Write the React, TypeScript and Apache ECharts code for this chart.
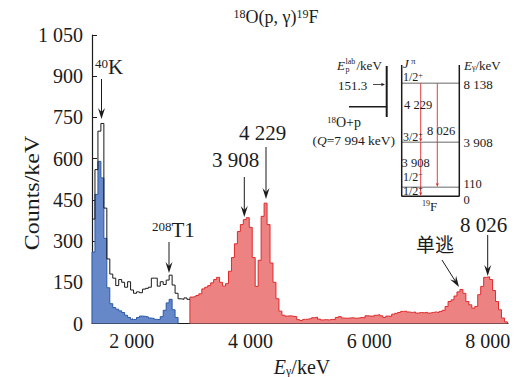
import React, { useEffect, useRef } from 'react';
import * as echarts from 'echarts';

// ---------- data (counts per keV, 50 keV bins) ----------
const BIN_WIDTH = 50;
const TOTAL_START = 1330;
const totalCounts = [
  380, 560, 700, 728, 420, 235, 180, 165, 138, 160,
  150, 132, 152, 122, 110, 115, 112, 125, 128, 132,
  165, 165, 136, 152, 142, 158, 176, 140, 110, 90,
  88, 93, 88,
];
const BG_START = 1330;
const backgroundCounts = [
  260, 470, 590, 530, 310, 130, 72, 58, 52, 46,
  40, 30, 22, 15, 14, 22, 27, 26, 24, 20,
  18, 15, 14, 25, 48, 75, 88, 50, 22,
];
const BEAM_START = 2980;
const beamCounts = [
  96, 98, 102, 108, 126, 132, 138, 148, 160, 168,
  150, 136, 145, 190, 240, 290, 335, 360, 378, 385,
  350, 240, 135, 230, 390, 438, 360, 220, 150, 90,
  45, 30, 27, 28, 26, 25, 14, 11, 15, 16,
  18, 21, 23, 16, 13, 14, 13, 15, 14, 22,
  25, 20, 19, 20, 21, 19, 20, 22, 20, 28,
  27, 26, 30, 32, 28, 22, 27, 26, 34, 37,
  40, 44, 45, 42, 40, 42, 38, 40, 39, 41,
  38, 40, 42, 40, 44, 48, 62, 80, 86, 100,
  115, 124, 110, 80, 68, 56, 62, 105, 135, 168,
  170, 160, 120, 80, 50, 20, 6,
];
const X_MIN = 1330;
const X_MAX = 8340;
const xTickValues = [2000, 4000, 6000, 8000];
const Y_MAX = 1050;
const Y_STEP = 150;

// ---------- helpers ----------
const SERIF = "'Liberation Serif','Times New Roman',serif";
const INK = '#1b1b1b';
const RED = '#e02a2a';

const fmt = (v: number) => String(v).replace(/\B(?=(\d{3})+(?!\d))/g, ' ');

function histogram(start: number, counts: number[], closed: boolean) {
  const pts: number[][] = [];
  if (closed) pts.push([start, 0]);
  counts.forEach((c, i) => pts.push([start + i * BIN_WIDTH, c]));
  const end = start + counts.length * BIN_WIDTH;
  pts.push([end, closed ? 0 : counts[counts.length - 1]]);
  return pts;
}

const tok = (size: number, extra: any = {}) => ({ fontSize: size, fontFamily: SERIF, fill: INK, ...extra });

function label(x: number, y: number, text: string, rich?: any, opts: any = {}) {
  return {
    type: 'text', x, y, silent: true, z: 100,
    rotation: opts.rotation || 0, scaleX: opts.scaleX || 1, scaleY: opts.scaleY || 1,
    style: {
      text, rich,
      fontSize: opts.size || 20, fontFamily: opts.family || SERIF,
      fontStyle: opts.italic ? 'italic' : 'normal',
      fill: opts.fill || INK,
      align: opts.align || 'left', verticalAlign: 'middle',
      textAlign: opts.align || 'left', textVerticalAlign: 'middle',
    },
  };
}

function arrow(x1: number, y1: number, x2: number, y2: number, color: string, len: number, hw: number, notch: number, width: number) {
  const dx = x2 - x1, dy = y2 - y1, L = Math.hypot(dx, dy);
  const ux = dx / L, uy = dy / L, px = -uy, py = ux;
  const bx = x2 - ux * len, by = y2 - uy * len;
  const nx = x2 - ux * notch, ny = y2 - uy * notch;
  return [
    { type: 'line', silent: true, z: 100, shape: { x1, y1, x2: nx, y2: ny }, style: { stroke: color, lineWidth: width } },
    { type: 'polygon', silent: true, z: 100, shape: { points: [[x2, y2], [bx + px * hw, by + py * hw], [nx, ny], [bx - px * hw, by - py * hw]] }, style: { fill: color } },
  ];
}

function seg(x1: number, y1: number, x2: number, y2: number, color: string, width: number) {
  return { type: 'line', silent: true, z: 100, shape: { x1, y1, x2, y2 }, style: { stroke: color, lineWidth: width } };
}

const SUP = (s: number) => tok(s, { verticalAlign: 'top' });
const SUB = (s: number) => tok(s, { verticalAlign: 'bottom' });

function buildGraphic() {
  const g: any[] = [];
  // title
  g.push(label(276, 17, '{s|18}{n|O(p, γ)}{s|19}{n|F}', { s: SUP(12), n: tok(18) }, { align: 'center' }));
  // axis names
  g.push(label(302, 367, '{i|E}{b|γ}{n|/keV}', { i: tok(20, { fontStyle: 'italic' }), b: SUB(12), n: tok(20) }, { align: 'center' }));
  g.push(label(32, 193, 'Counts/keV', undefined, { size: 20, rotation: Math.PI / 2, align: 'center', scaleX: 1.2 }));

  // peak annotations
  g.push(label(95, 67, '{s|40}{n|K}', { s: SUP(13), n: tok(21) }));
  g.push(...arrow(101.5, 79, 101.5, 119, INK, 11, 3.5, 7, 1));
  g.push(label(152, 230, '{s|208}{n|T1}', { s: SUP(13), n: tok(21) }));
  g.push(...arrow(169, 242, 169, 273, INK, 11, 3.5, 7, 1));
  g.push(label(212, 160, '3 908', undefined, { size: 21 }));
  g.push(...arrow(244.3, 177, 244.3, 217, INK, 11, 3.5, 7, 1));
  g.push(label(239, 133, '4 229', undefined, { size: 21 }));
  g.push(...arrow(266, 147, 266, 199, INK, 11, 3.5, 7, 1));
  g.push(label(416, 243, '单逃', undefined, { size: 19, family: "'Noto Sans CJK SC', sans-serif" }));
  g.push(...arrow(442, 260, 459, 287, INK, 11, 3.5, 7, 1));
  g.push(label(460, 225, '8 026', undefined, { size: 21 }));
  g.push(...arrow(487.7, 235, 487.7, 276, INK, 11, 3.5, 7, 1));

  // ---- inset level scheme ----
  g.push(label(337, 65, 'E', undefined, { size: 13, italic: true }));
  g.push(label(345.5, 61.5, 'lab', undefined, { size: 8 }));
  g.push(label(345.5, 69.5, 'p', undefined, { size: 8 }));
  g.push(label(356.5, 65, '/keV', undefined, { size: 13 }));
  g.push(label(338, 85, '151.3', undefined, { size: 13 }));
  g.push(...arrow(373, 84.5, 385, 84.5, INK, 4, 1.8, 3, 0.8));
  g.push(seg(386.7, 66, 386.7, 117, INK, 2));
  g.push(seg(349, 106.7, 386.7, 106.7, INK, 1.5));
  g.push(label(327, 122, '{s|18}{n|O+p}', { s: SUP(9), n: tok(14) }));
  g.push(label(395, 140, '{n|(}{i|Q}{n|=7 994 keV)}', { n: tok(13.5), i: tok(13.5, { fontStyle: 'italic' }) }, { align: 'right' }));

  // levels
  [83.3, 142.3, 187.3].forEach((y) => g.push(seg(401.7, y, 459.3, y, '#9a9a9a', 1.5)));
  g.push(seg(401.7, 65, 401.7, 196.5, INK, 1.5));
  g.push(seg(459.3, 65, 459.3, 196.5, INK, 1.5));
  g.push(seg(401.7, 196.3, 459.3, 196.3, INK, 1.5));
  // transitions
  g.push(...arrow(420.7, 83.3, 420.7, 142, RED, 4, 1.6, 3, 0.9));
  g.push(...arrow(420.7, 142.3, 420.7, 196, RED, 4, 1.6, 3, 0.9));
  g.push(...arrow(437.3, 83.3, 437.3, 187, RED, 4, 1.6, 3, 0.9));

  g.push(label(403, 63, '{i|J}{s| π}', { i: tok(13, { fontStyle: 'italic' }), s: SUP(9) }));
  g.push(label(403, 77.3, '{n|1/2}{s|+}', { n: tok(12), s: SUP(8) }));
  g.push(label(403, 136.7, '{n|3/2}{s|+}', { n: tok(12), s: SUP(8) }));
  g.push(label(403, 176.7, '{n|1/2}{s|−}', { n: tok(12), s: SUP(8) }));
  g.push(label(403, 190.7, '{n|1/2}{s|+}', { n: tok(12), s: SUP(8) }));
  g.push(label(404, 105, '4 229', undefined, { size: 12.5 }));
  g.push(label(427, 130.7, '8 026', undefined, { size: 12.5 }));
  g.push(label(401.5, 163.3, '3 908', undefined, { size: 12.5 }));

  g.push(label(464, 65, '{i|E}{b|γ}{n|/keV}', { i: tok(13, { fontStyle: 'italic' }), b: SUB(8), n: tok(13) }));
  g.push(label(463.5, 84.5, '8 138', undefined, { size: 13 }));
  g.push(label(463.5, 142.7, '3 908', undefined, { size: 13 }));
  g.push(label(463.5, 184.3, '110', undefined, { size: 12.5 }));
  g.push(label(463.5, 200.2, '0', undefined, { size: 12.5 }));
  g.push(label(422, 206, '{s|19}{n|F}', { s: SUP(8), n: tok(13) }));
  return g;
}

export default function App() {
  const ref = useRef<HTMLDivElement>(null);
  useEffect(() => {
    if (!ref.current) return;
    const chart = echarts.init(ref.current, undefined, { renderer: 'svg' });
    const axisText = { fontSize: 20, fontFamily: SERIF, color: INK };
    chart.setOption({
      animation: false,
      grid: { left: 92, right: 8, top: 35, bottom: 53.5, containLabel: false, outerBoundsMode: 'none' },
      xAxis: {
        type: 'value', min: X_MIN, max: X_MAX,
        axisLine: { show: true, onZero: false, lineStyle: { color: INK, width: 1.2 } },
        axisTick: { show: true, inside: true, length: 5, customValues: xTickValues, lineStyle: { color: INK } },
        axisLabel: { ...axisText, customValues: xTickValues, formatter: (v: number) => fmt(v), margin: 7 },
        splitLine: { show: false },
      },
      yAxis: {
        type: 'value', min: 0, max: Y_MAX, interval: Y_STEP,
        axisLine: { show: true, lineStyle: { color: INK, width: 1.2 } },
        axisTick: { show: true, inside: true, length: 5, lineStyle: { color: INK } },
        axisLabel: { ...axisText, formatter: (v: number) => fmt(v), margin: 9, showMinLabel: true, showMaxLabel: true },
        splitLine: { show: false },
      },
      series: [
        {
          type: 'line', step: 'end', symbol: 'none', z: 2,
          data: histogram(BG_START, backgroundCounts, true),
          lineStyle: { color: '#2a58a8', width: 1 },
          areaStyle: { color: '#6688c8', opacity: 1 },
        },
        {
          type: 'line', step: 'end', symbol: 'none', z: 3,
          data: histogram(TOTAL_START, totalCounts, false),
          lineStyle: { color: '#1a1a1a', width: 1 },
        },
        {
          type: 'line', step: 'end', symbol: 'none', z: 2,
          data: histogram(BEAM_START, beamCounts, true),
          lineStyle: { color: RED, width: 1 },
          areaStyle: { color: '#ec8282', opacity: 1 },
        },
      ],
      graphic: buildGraphic(),
    });
    return () => chart.dispose();
  }, []);
  return <div ref={ref} style={{ position: 'absolute', left: 0, top: 0, width: 516, height: 377 }} />;
}
